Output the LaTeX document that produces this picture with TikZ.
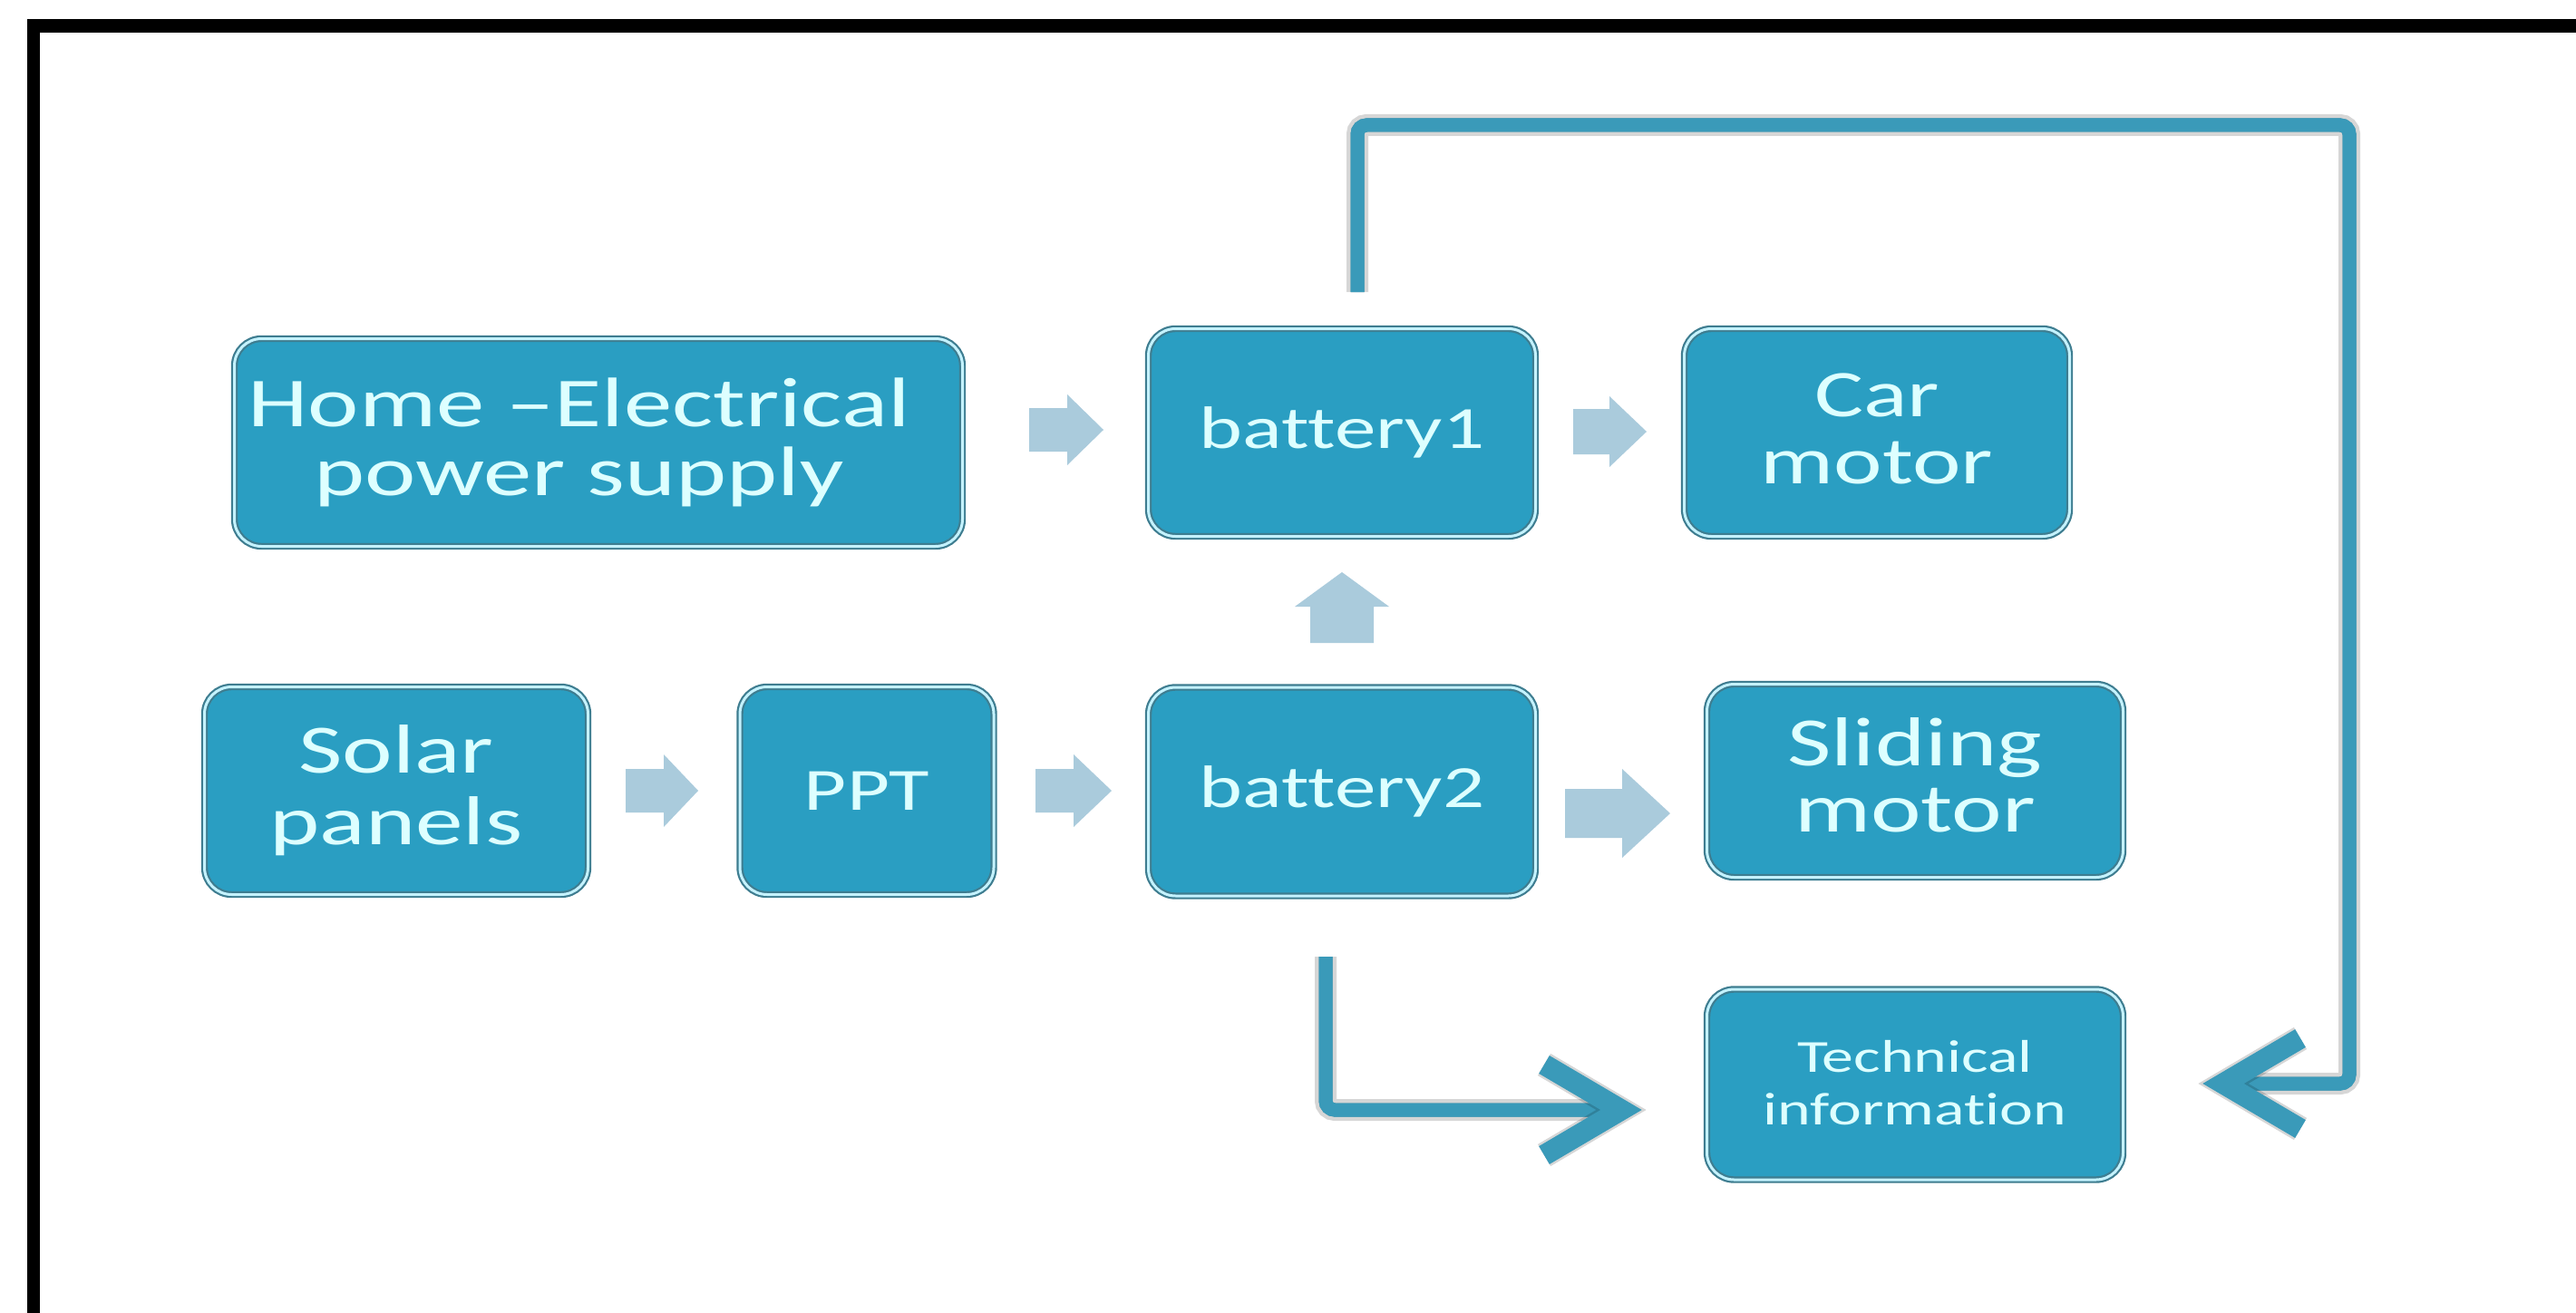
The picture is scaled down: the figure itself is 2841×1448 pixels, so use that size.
\documentclass[tikz,border=0pt]{standalone}
\usepackage{graphicx}
\usepackage{fontspec}
\setmainfont{Carlito}[Ligatures=NoCommon]
\usetikzlibrary{calc}
\definecolor{boxfill}{HTML}{2A9EC2}
\definecolor{boxedge}{HTML}{3E7D90}
\definecolor{boxlight}{HTML}{C4F2FF}
\definecolor{txtc}{HTML}{DDFFFF}
\definecolor{blkc}{HTML}{AACBDC}
\definecolor{connc}{HTML}{3A9AB9}
\definecolor{conndark}{HTML}{3D8AA2}
\definecolor{connlight}{HTML}{C6F0FF}
% label: raise, font size, line pitch, lines separated by \cr
\newcommand{\lbl}[4]{\raisebox{#1}{\scalebox{1.38}[1]{\fontsize{#2pt}{#3pt}\selectfont\lineskiplimit=-50pt\vbox{\halign{\hfil##\hfil\cr #4\crcr}}}}}
% horizontal block arrow: tail coordinate, shaft length, head length, shaft half height, head half height
\newcommand{\hblock}[5]{%
  \pgfmathsetmacro{\dd}{#4-#5}%
  \fill[blkc] (#1) ++(0,-#4) -- ++(#2,0) -- ++(0,\dd) -- ++(#3,#5) -- ++(-#3,#5) -- ++(0,\dd) -- ++(-#2,0) -- cycle;}
\newcommand{\vblock}[5]{%
  \pgfmathsetmacro{\dd}{#4-#5}%
  \fill[blkc] (#1) ++(-#4,0) -- ++(0,-#2) -- ++(\dd,0) -- ++(#5,-#3) -- ++(#5,#3) -- ++(\dd,0) -- ++(0,#2) -- cycle;}
\newcommand{\connector}[1]{%
  \draw[black, opacity=0.16, line width=2.4mm, yshift=-1.4mm, rounded corners=1mm] #1;
  \draw[conndark, line width=1.5mm, xshift=-1.0mm, yshift=-1.0mm, rounded corners=1mm] #1;
  \draw[connlight, line width=0.6mm, xshift=-0.9mm, yshift=-0.9mm, rounded corners=1mm] #1;
  \draw[connc, line width=1.5mm, rounded corners=1mm] #1;}
\tikzset{
  box/.style={rounded corners=3mm, fill=boxfill, draw=boxedge, line width=0.22mm,
    double=boxlight, double distance=0.3mm, text=txtc, inner sep=0pt, align=center},
  chevron/.style={draw=connc, line width=2.3mm, line join=miter, line cap=butt},
  chevshadow/.style={draw=black, opacity=0.16, line width=2.8mm, line join=miter, yshift=-1.4mm}
}
\begin{document}
\begin{tikzpicture}[x=0.1mm, y=-0.1mm]
\useasboundingbox (0,0) rectangle (2841,1448);
\fill[white] (0,0) rectangle (2841,1448);
% black frame (top and left)
\fill[black] (30,21) rectangle (2841,36);
\fill[black] (30,21) rectangle (44,1448);

% boxes
\node[box, minimum width=80.3mm, minimum height=22.9mm] (home) at (660,488)
  {\hspace*{-4.3mm}\lbl{0.3mm}{22}{21.6}{Home –Electrical\cr power supply}};
\node[box, minimum width=42.7mm, minimum height=22.9mm] (b1) at (1480,477)
  {\lbl{0mm}{18.8}{20}{battery1}};
\node[box, minimum width=42.5mm, minimum height=22.9mm] (car) at (2070,477)
  {\lbl{0.9mm}{20.9}{21}{Car\cr motor}};
\node[box, minimum width=42.3mm, minimum height=22.9mm] (solar) at (437,872)
  {\lbl{0.7mm}{21.7}{22.5}{Solar\cr panels}};
\node[box, minimum width=28.0mm, minimum height=22.9mm] (ppt) at (956,872)
  {\lbl{0mm}{18.8}{20}{PPT}};
\node[box, minimum width=42.7mm, minimum height=23.0mm] (b2) at (1480,873)
  {\lbl{0mm}{18.8}{20}{battery2}};
\node[box, minimum width=45.9mm, minimum height=21.3mm] (slide) at (2112,861)
  {\lbl{1.3mm}{21.7}{20.5}{Sliding\cr motor}};
\node[box, minimum width=45.9mm, minimum height=21.0mm] (tech) at (2112,1196)
  {\lbl{0.5mm}{14.4}{16.5}{Technical\cr information}};

% block arrows
\coordinate (a1) at ($(b1)+(-345,-3)$);
\hblock{a1}{42}{40}{24}{39}
\coordinate (a2) at ($(car)+(-335,-1)$);
\hblock{a2}{40}{41}{25}{39}
\coordinate (a3) at ($(b2)+(0,-164)$);
\vblock{a3}{40}{38}{35}{52}
\coordinate (a4) at ($(ppt)+(-266,0)$);
\hblock{a4}{42}{38}{24}{40}
\coordinate (a5) at ($(b2)+(-338,-1)$);
\hblock{a5}{42}{42}{24}{40}
\coordinate (a6) at ($(slide)+(-386,36)$);
\hblock{a6}{63}{53}{27}{49}

% connector battery1 -> technical information (right)
\coordinate (s1) at ($(b1)+(17,-155)$);
\coordinate (c1) at ($(b1)+(17,-339)$);
\coordinate (c2) at ($(tech)+(479,-1058)$);
\coordinate (c3) at ($(tech)+(479,-1)$);
\coordinate (v1) at ($(tech)+(340,-1)$);
\connector{(s1) -- (c1) -- (c2) -- (c3) -- (v1)}
\draw[chevshadow] ($(v1)+(85,-50)$) -- (v1) -- ($(v1)+(85,50)$);
\draw[chevron] ($(v1)+(85,-50)$) -- (v1) -- ($(v1)+(85,50)$);

% connector battery2 -> technical information (left)
\coordinate (s2) at ($(b2)+(-18,182)$);
\coordinate (d1) at ($(b2)+(-18,351)$);
\coordinate (v2) at ($(tech)+(-324,28)$);
\connector{(s2) -- (d1) -- (v2)}
\draw[chevshadow] ($(v2)+(-85,-50)$) -- (v2) -- ($(v2)+(-85,50)$);
\draw[chevron] ($(v2)+(-85,-50)$) -- (v2) -- ($(v2)+(-85,50)$);
\end{tikzpicture}
\end{document}
